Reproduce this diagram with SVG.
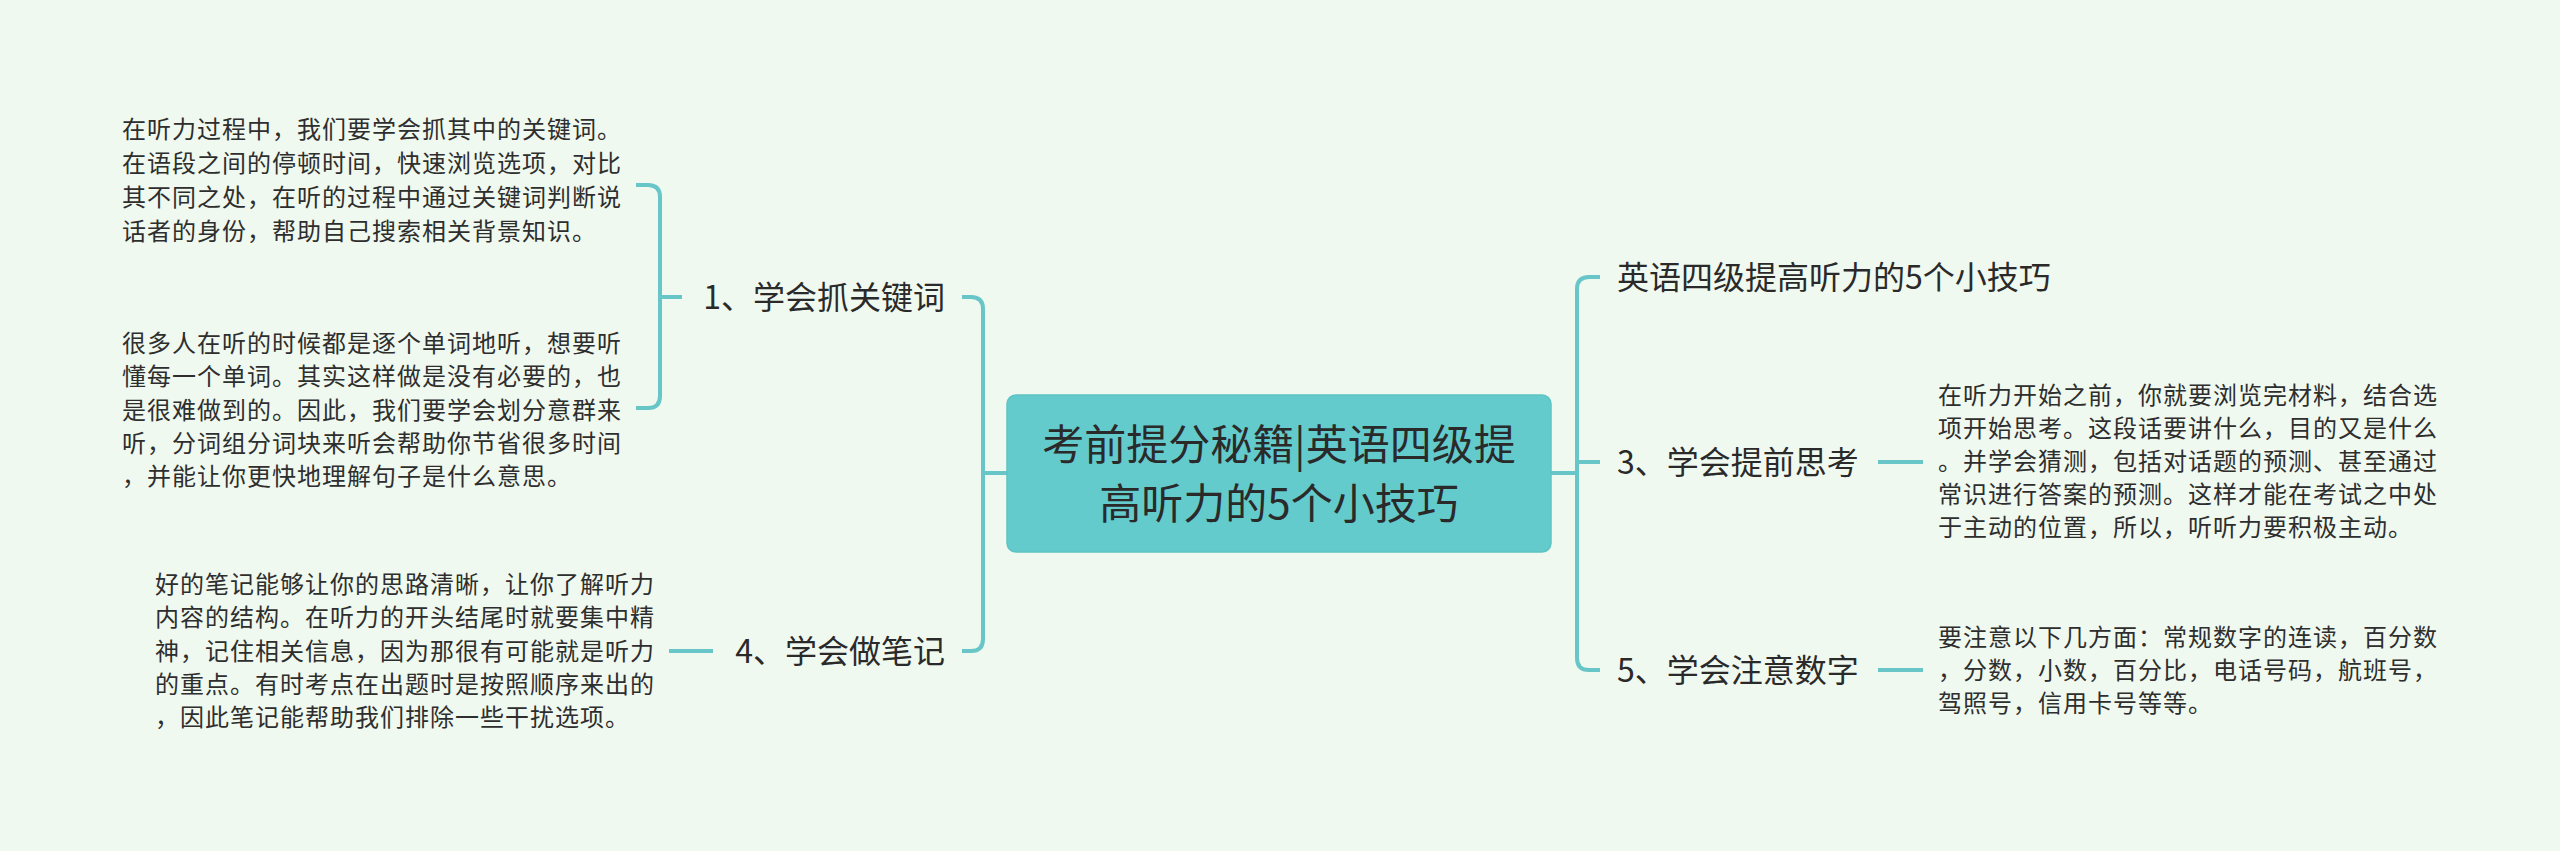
<svg xmlns="http://www.w3.org/2000/svg" width="2560" height="851" viewBox="0 0 2560 851">
<style>
.bg{fill:#F0F9EF}
.ln{fill:none;stroke:#68C6C9;stroke-width:4;stroke-linecap:butt}
.root{fill:#64CBCC;stroke:#5DC3C4;stroke-width:1.5}
.rt{font-family:"Noto Sans CJK SC","Noto Sans",sans-serif;font-size:42px;fill:#2A2A2A;text-anchor:middle}
.lb{font-family:"Noto Sans CJK SC","Noto Sans",sans-serif;font-size:32px;fill:#2A2A2A}
.tx{font-family:"Noto Sans CJK SC","Noto Sans",sans-serif;font-size:24px;letter-spacing:1px;fill:#2E2E2E}
</style>
<rect class="bg" x="0" y="0" width="2560" height="851"/>
<g id="connectors">
<!-- root to trunks -->
<path class="ln" d="M1007 473 H983"/>
<path class="ln" d="M1551 473 H1577"/>
<!-- left trunk -->
<path class="ln" d="M962 297 H971 Q983 297 983 309 V639 Q983 651 971 651 H962"/>
<!-- right trunk -->
<path class="ln" d="M1600 277 H1589 Q1577 277 1577 289 V658 Q1577 670 1589 670 H1600"/>
<path class="ln" d="M1577 462 H1600"/>
<!-- item 1 bracket -->
<path class="ln" d="M682 297 H660"/>
<path class="ln" d="M636 185 H648 Q660 185 660 197 V396 Q660 408 648 408 H636"/>
<!-- item 4 -->
<path class="ln" d="M713 651 H669"/>
<!-- item 3 -->
<path class="ln" d="M1878 462 H1923"/>
<!-- item 5 -->
<path class="ln" d="M1878 670 H1923"/>
</g>
<g id="root">
<rect class="root" x="1007" y="395" width="544" height="157" rx="9" ry="9"/>
<text class="rt" x="1279" y="460">考前提分秘籍|英语四级提</text>
<text class="rt" x="1279" y="519">高听力的5个小技巧</text>
</g>
<g id="n1">
<text class="lb" x="945" y="309" text-anchor="end">1、学会抓关键词</text>
</g>
<g id="n1a">
<text class="tx" x="122" y="138">在听力过程中，我们要学会抓其中的关键词。</text>
<text class="tx" x="122" y="172">在语段之间的停顿时间，快速浏览选项，对比</text>
<text class="tx" x="122" y="206">其不同之处，在听的过程中通过关键词判断说</text>
<text class="tx" x="122" y="240">话者的身份，帮助自己搜索相关背景知识。</text>
</g>
<g id="n1b">
<text class="tx" x="122" y="352">很多人在听的时候都是逐个单词地听，想要听</text>
<text class="tx" x="122" y="385">懂每一个单词。其实这样做是没有必要的，也</text>
<text class="tx" x="122" y="419">是很难做到的。因此，我们要学会划分意群来</text>
<text class="tx" x="122" y="452">听，分词组分词块来听会帮助你节省很多时间</text>
<text class="tx" x="122" y="485">，并能让你更快地理解句子是什么意思。</text>
</g>
<g id="n4">
<text class="lb" x="945" y="663" text-anchor="end">4、学会做笔记</text>
</g>
<g id="n4a">
<text class="tx" x="155" y="593">好的笔记能够让你的思路清晰，让你了解听力</text>
<text class="tx" x="155" y="626">内容的结构。在听力的开头结尾时就要集中精</text>
<text class="tx" x="155" y="660">神，记住相关信息，因为那很有可能就是听力</text>
<text class="tx" x="155" y="693">的重点。有时考点在出题时是按照顺序来出的</text>
<text class="tx" x="155" y="726">，因此笔记能帮助我们排除一些干扰选项。</text>
</g>
<g id="n2">
<text class="lb" x="1617" y="289">英语四级提高听力的5个小技巧</text>
</g>
<g id="n3">
<text class="lb" x="1617" y="474">3、学会提前思考</text>
</g>
<g id="n3a">
<text class="tx" x="1938" y="404">在听力开始之前，你就要浏览完材料，结合选</text>
<text class="tx" x="1938" y="437">项开始思考。这段话要讲什么，目的又是什么</text>
<text class="tx" x="1938" y="470">。并学会猜测，包括对话题的预测、甚至通过</text>
<text class="tx" x="1938" y="503">常识进行答案的预测。这样才能在考试之中处</text>
<text class="tx" x="1938" y="536">于主动的位置，所以，听听力要积极主动。</text>
</g>
<g id="n5">
<text class="lb" x="1617" y="682">5、学会注意数字</text>
</g>
<g id="n5a">
<text class="tx" x="1938" y="646">要注意以下几方面：常规数字的连读，百分数</text>
<text class="tx" x="1938" y="679">，分数，小数，百分比，电话号码，航班号，</text>
<text class="tx" x="1938" y="712">驾照号，信用卡号等等。</text>
</g>
</svg>
